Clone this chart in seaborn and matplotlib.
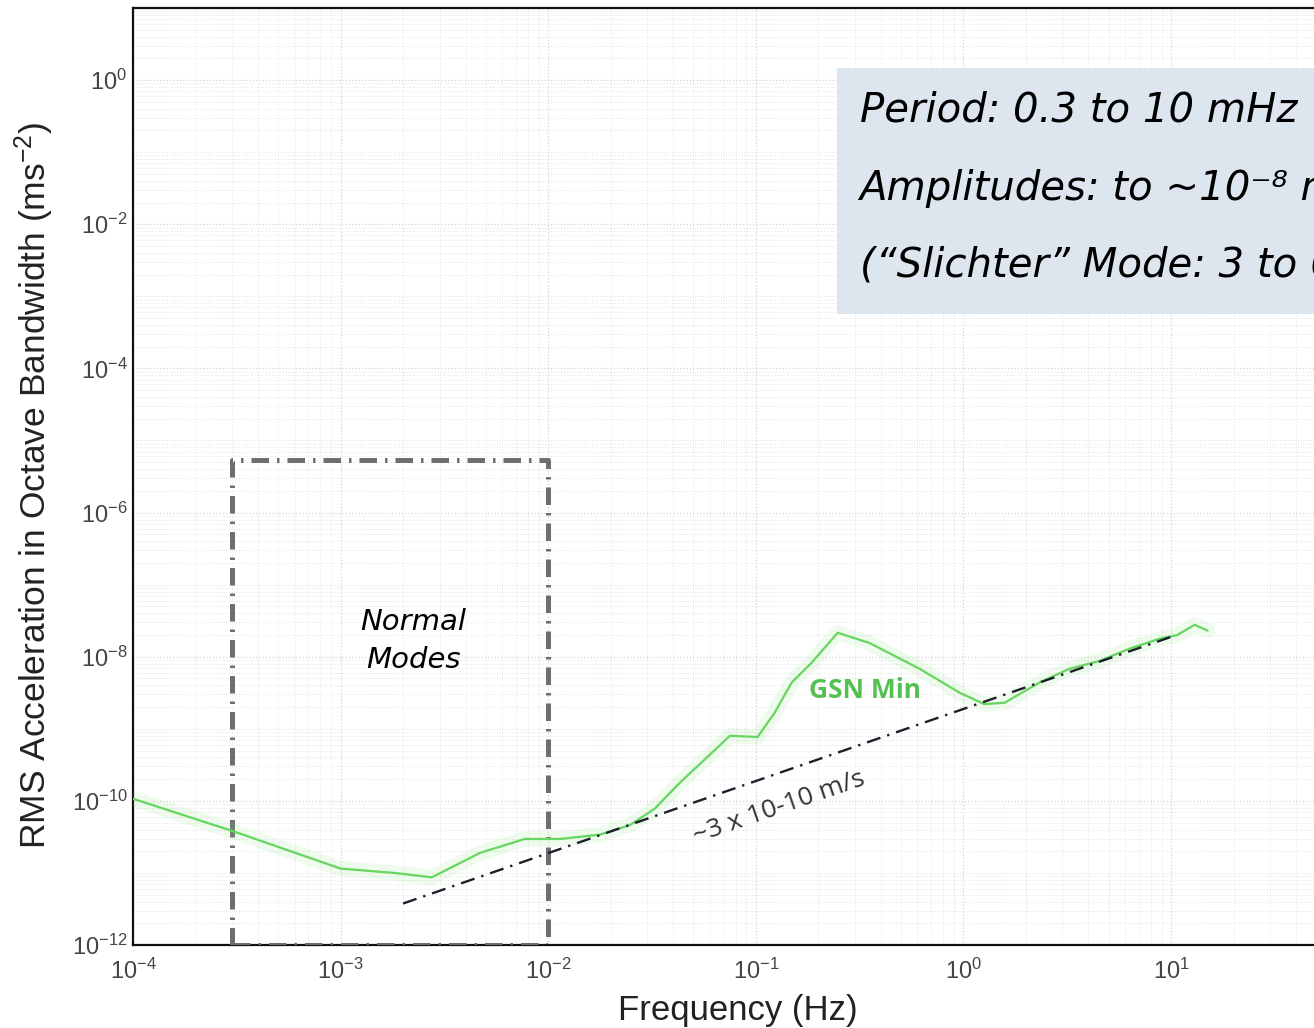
import numpy as np
import pandas as pd
import matplotlib
matplotlib.use("Agg")
import matplotlib.pyplot as plt
import matplotlib.ticker as mticker
import seaborn as sns

# GSN minimum noise model (RMS acceleration in octave bandwidth)
gsn_freq = [1e-4, 3.03e-4, 1e-3, 1.82e-3, 2.75e-3, 4.7e-3, 7.7e-3, 1.14e-2, 1.77e-2,
            2.47e-2, 3.26e-2, 4.3e-2, 5.7e-2, 7.5e-2, 0.102, 0.123, 0.149, 0.186,
            0.248, 0.353, 0.615, 0.96, 1.26, 1.58, 2.33, 3.24, 4.5, 6.3, 8.8,
            10.7, 13.0, 15.0]
gsn_accel = [1.07e-10, 3.8e-11, 1.15e-11, 1.0e-11, 8.7e-12, 1.9e-11, 2.96e-11, 2.96e-11,
             3.4e-11, 4.6e-11, 7.8e-11, 1.78e-10, 3.8e-10, 8.0e-10, 7.7e-10, 1.66e-9,
             4.4e-9, 8.3e-9, 2.15e-8, 1.55e-8, 6.8e-9, 3.16e-9, 2.2e-9, 2.3e-9,
             4.4e-9, 6.8e-9, 8.7e-9, 1.29e-8, 1.78e-8, 2.0e-8, 2.77e-8, 2.3e-8]

# constant-velocity reference line
velocity = 3e-10           # m/s
vel_freq_range = [2.0e-3, 10.4]

# normal-mode band
mode_freq = [3e-4, 1e-2]
mode_accel = [1e-12, 5.3e-6]

info_lines = ["Period: 0.3 to 10 mHz",
              "Amplitudes: to ~10\u207b\u2078 ms\u207b\u00b2",
              "(\u201cSlichter\u201d Mode: 3 to 6 hrs)"]
info_y = [0.38, 0.0316, 2.7e-3]

sns.set_theme(style="white")
plt.rcParams["font.family"] = ["Liberation Sans", "DejaVu Sans"]

fig = plt.figure(figsize=(13.14, 10.28), dpi=100)
ax = fig.add_axes([0.1012, 0.0807, 0.948, 0.9115])
ax.set_xscale("log")
ax.set_yscale("log")
ax.set_xlim(1e-4, 1e2)
ax.set_ylim(1e-12, 1e1)


def decade_label(v, pos):
    e = int(round(np.log10(v)))
    if v > 20:
        return ""
    return r"$\mathregular{10^{%d}}$" % e


# faint dotted grid
ax.xaxis.set_major_locator(mticker.LogLocator(base=10, numticks=20))
ax.xaxis.set_minor_locator(mticker.LogLocator(base=10, subs=np.arange(2, 10), numticks=100))
ax.yaxis.set_major_locator(mticker.LogLocator(base=100, numticks=20))
ax.yaxis.set_minor_locator(mticker.LogLocator(base=10, subs=np.arange(1, 10), numticks=100))
ax.xaxis.set_major_formatter(mticker.FuncFormatter(decade_label))
ax.yaxis.set_major_formatter(mticker.FuncFormatter(decade_label))
ax.yaxis.set_minor_formatter(mticker.NullFormatter())
ax.xaxis.set_minor_formatter(mticker.NullFormatter())
ax.grid(True, which="major", color="#d4d4d4", linestyle=":", linewidth=0.9)
ax.grid(True, which="minor", color="#e4e4e4", linestyle=":", linewidth=0.7)
ax.set_axisbelow(True)

# normal-mode box
bx = [mode_freq[0], mode_freq[0], mode_freq[1], mode_freq[1], mode_freq[0]]
by = [mode_accel[0], mode_accel[1], mode_accel[1], mode_accel[0], mode_accel[0]]
ax.plot(bx, by, color="#6e6e6e", linewidth=3.6,
        linestyle=(0, (3.5, 1.6, 0.5, 1.6)), zorder=3)

# GSN min curve with halo
df = pd.DataFrame({"freq": gsn_freq, "accel": gsn_accel})
sns.lineplot(data=df, x="freq", y="accel", ax=ax, color="#8ee68a", linewidth=11,
             alpha=0.15, zorder=4)
sns.lineplot(data=df, x="freq", y="accel", ax=ax, color="#66d660", linewidth=1.6,
             zorder=5)

# constant-velocity line: a = 2*pi*f*v
vf = np.logspace(np.log10(vel_freq_range[0]), np.log10(vel_freq_range[1]), 50)
vdf = pd.DataFrame({"freq": vf, "accel": 2 * np.pi * vf * velocity})
sns.lineplot(data=vdf, x="freq", y="accel", ax=ax, color="#1c1f2a", linewidth=1.7,
             linestyle=(0, (6, 3, 1, 3)), zorder=6)

ax.text(0.13, 8.0e-11, "~3 x 10-10 m/s", rotation=19, fontsize=19, color="#333333",
        ha="center", va="center", family="Open Sans", zorder=7)
ax.text(0.334, 3.4e-9, "GSN Min", fontsize=19, color="#55c052", fontweight="bold",
        ha="center", va="center", family="Open Sans", zorder=7)
ax.text(2.25e-3, 1.66e-8, "Normal\nModes", fontsize=21, color="black",
        ha="center", va="center", linespacing=1.45, style="oblique",
        family="DejaVu Sans", zorder=7)

# information box
ax.add_patch(plt.Rectangle((0.245, 5.6e-4), 300, 1.47 - 5.6e-4, facecolor="#dde6ef",
                           edgecolor="none", zorder=6, transform=ax.transData))
for yv, line in zip(info_y, info_lines):
    ax.text(0.316, yv, line, fontsize=29, color="black",
            ha="left", va="center", style="oblique", family="DejaVu Sans", zorder=8)

ax.set_xlabel("Frequency (Hz)", fontsize=25, color="#222222")
ax.set_ylabel(r"RMS Acceleration in Octave Bandwidth (ms$\mathregular{^{-2}}$)",
              fontsize=25.5, color="#222222")
ax.xaxis.set_label_coords(0.4856, -0.052)
ax.yaxis.set_label_coords(-0.0617, 0.491)
ax.tick_params(axis="both", which="major", labelsize=17, colors="#444444",
               direction="in", length=5)
ax.tick_params(axis="both", which="minor", direction="in", length=3)
ax.tick_params(axis="x", pad=10)
ax.tick_params(axis="y", pad=4)

for side in ["left", "bottom", "top"]:
    ax.spines[side].set_color("#111111")
    ax.spines[side].set_linewidth(1.6)
ax.spines["right"].set_visible(False)

fig.savefig("out.png", dpi=100)
